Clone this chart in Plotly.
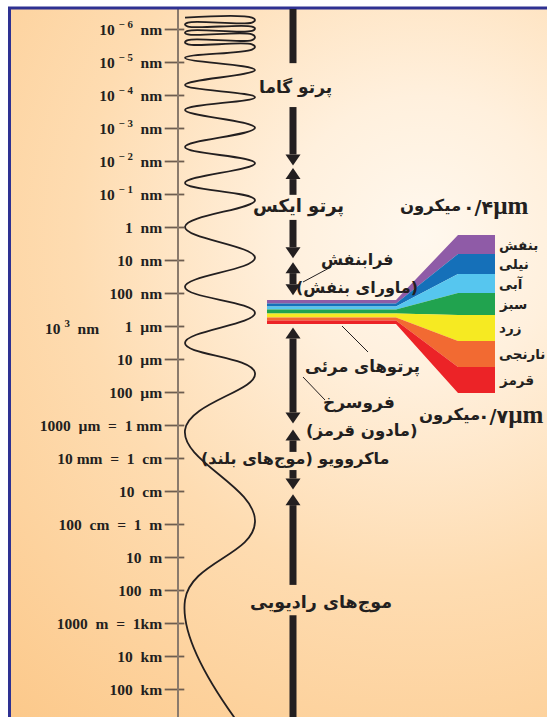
import base64
import plotly.graph_objects as go

# ---------------- data ----------------
# wavelength scale: log10(wavelength / m)
tick_exp = list(range(-15, 6))
SP = "\u2002"
NB = "\u00a0"


def sup_nm(p):
    return "10" + NB + "<sup>−" + NB + str(p) + "</sup>" + SP + "nm"


tick_text = [
    sup_nm(6), sup_nm(5), sup_nm(4), sup_nm(3), sup_nm(2), sup_nm(1),
    "1" + SP + "nm", "10" + SP + "nm", "100" + SP + "nm",
    "1" + SP + "µm", "10" + SP + "µm", "100" + SP + "µm",
    "1000" + SP + "µm" + SP + "=" + SP + "1" + NB + "mm", "10" + NB + "mm" + SP + "=" + SP + "1" + SP + "cm",
    "10" + SP + "cm",
    "100" + SP + "cm" + SP + "=" + SP + "1" + SP + "m", "10" + SP + "m", "100" + SP + "m",
    "1000" + SP + "m" + SP + "=" + SP + "1km", "10" + SP + "km", "100" + SP + "km",
]
alt_label_exp = -6
alt_label_text = "10" + NB + "<sup>3</sup>" + SP + "nm"

# bands of the spectrum along the scale (log10 m); None = runs off the frame
band_names = ["پرتو گاما", "پرتو ایکس", "فرابنفش", "فروسرخ", "ماکروویو", "موج‌های رادیویی"]
band_top_exp = [None, -10.80, -7.95, -5.97, -2.88, -0.92]
band_bottom_exp = [-10.88, -8.07, -6.95, -3.06, -1.06, None]
band_gap_exp = [(-13.98, -12.65), (-9.99, -9.23), None, None, (-2.20, -1.65), (1.83, 2.75)]

# drawn wave: tightly folded strokes at the top, then alternating turning points (log10 m)
wave_fold_exp = [-15.36, -15.21, -15.09, -14.96, -14.85, -14.68, -14.55, -14.39]
wave_turn_exp = [-14.14, -13.77, -13.32, -12.95, -12.56, -12.02, -11.44, -10.95,
                 -10.35, -9.83, -9.02, -8.08, -7.20, -6.41, -5.50, -4.59,
                 -2.86, -0.08, 2.29, 6.68]

# visible light
spectrum_names = ["بنفش", "نیلی", "آبی", "سبز", "زرد", "نارنجی", "قرمز"]
spectrum_colors = ["#8f5ba7", "#1570b9", "#56c6ef", "#21a34f", "#f6ea22", "#f26a32", "#ec2327"]
spectrum_narrow_edges = [300, 303.5, 306.5, 309.5, 313.5, 317.5, 320.5, 324]
spectrum_wide_edges = [235, 254, 274, 293, 315, 341, 367, 393]
edge_values = ["۰/۴", "۰/۷"]
edge_unit = "µm"
unit_word = "میکرون"

# ---------------- layout constants ----------------
W, H = 547, 717
FRAME_X, FRAME_Y = 9.5, 8
AXIS_X = 178
Y2_RANGE = [5.833, -15.621]
Y2_DOMAIN = [0, (H - FRAME_Y - 1) / H]
DEC_PX = 33.0
BAR_X = 293
BAR_W = 7
AH = 11 / DEC_PX
AW = 7.5
WAVE_L, WAVE_R = 185, 255
CURL = 3
INK = "#231f20"
RLM = "\u200f"
FA_FONT = "DejaVu Sans"

fig = go.Figure()

# background gradient
svg = f"""<svg xmlns='http://www.w3.org/2000/svg' width='{W}' height='{H}' viewBox='0 0 {W} {H}' preserveAspectRatio='none'>
<defs><radialGradient id='g' gradientUnits='userSpaceOnUse' cx='420' cy='230' r='640'>
<stop offset='0' stop-color='#fff8ee'/><stop offset='0.22' stop-color='#fff0dd'/>
<stop offset='0.55' stop-color='#fedcb1'/><stop offset='1' stop-color='#fcc98b'/>
</radialGradient></defs><rect width='{W}' height='{H}' fill='url(#g)'/></svg>"""
src = "data:image/svg+xml;base64," + base64.b64encode(svg.encode()).decode()
fig.add_layout_image(source=src, xref="x", yref="y", x=FRAME_X, y=FRAME_Y,
                     sizex=W - FRAME_X, sizey=H - FRAME_Y, sizing="stretch",
                     layer="below", xanchor="left", yanchor="top")

# wave: folded strokes (alternating direction, rounded turns), then turning points
wx, wy = [WAVE_L], [wave_fold_exp[0]]
for k in range(len(wave_fold_exp) - 1):
    side_r = (k % 2 == 0)
    xs = WAVE_R if side_r else WAVE_L
    inward = -CURL if side_r else CURL
    a, b = wave_fold_exp[k], wave_fold_exp[k + 1]
    wx += [xs + inward, xs, xs + inward]
    wy += [a, (a + b) / 2, b]
for i, e in enumerate(wave_turn_exp):
    wx.append(WAVE_L if i % 2 == 0 else WAVE_R)
    wy.append(e)
fig.add_trace(go.Scatter(x=wx, y=wy, yaxis="y2", mode="lines",
                         line=dict(color=INK, width=1.8, shape="spline", smoothing=1.2),
                         hoverinfo="skip", showlegend=False))

# tick marks
fig.add_trace(go.Scatter(x=[AXIS_X - 3.5] * len(tick_exp), y=tick_exp, yaxis="y2", mode="markers",
                         marker=dict(symbol="line-ew", size=14, line=dict(width=1.8, color="#6d5d50")),
                         hoverinfo="skip", showlegend=False))

shapes = []
# frame
shapes.append(dict(type="path", xref="x", yref="y",
                   path=f"M {FRAME_X},{H + 2} L {FRAME_X},{FRAME_Y} L {W + 2},{FRAME_Y}",
                   line=dict(color="#2e3192", width=3)))

# band bars with arrows
for top, bot, gap in zip(band_top_exp, band_bottom_exp, band_gap_exp):
    y_start = Y2_RANGE[1] if top is None else top + AH
    y_end = Y2_RANGE[0] if bot is None else bot - AH
    segs = [(y_start, y_end)] if gap is None else [(y_start, gap[0]), (gap[1], y_end)]
    for a, b in segs:
        shapes.append(dict(type="line", xref="x", yref="y2", x0=BAR_X, x1=BAR_X, y0=a, y1=b,
                           line=dict(color=INK, width=BAR_W)))
    if top is not None:
        shapes.append(dict(type="path", xref="x", yref="y2", fillcolor=INK, line=dict(width=0),
                           path=f"M {BAR_X - AW},{top + AH} L {BAR_X + AW},{top + AH} L {BAR_X},{top} Z"))
    if bot is not None:
        shapes.append(dict(type="path", xref="x", yref="y2", fillcolor=INK, line=dict(width=0),
                           path=f"M {BAR_X - AW},{bot - AH} L {BAR_X + AW},{bot - AH} L {BAR_X},{bot} Z"))

# spectrum fan
XN0, XN1, XW0, XW1 = 267, 396, 458, 495
for i, col in enumerate(spectrum_colors):
    nt, nb = spectrum_narrow_edges[i], spectrum_narrow_edges[i + 1]
    wt, wb = spectrum_wide_edges[i], spectrum_wide_edges[i + 1]
    shapes.append(dict(type="path", xref="x", yref="y", fillcolor=col, line=dict(width=0),
                       path=(f"M {XN0},{nt} L {XN1},{nt} L {XW0},{wt} L {XW1},{wt} "
                             f"L {XW1},{wb} L {XW0},{wb} L {XN1},{nb} L {XN0},{nb} Z")))

# leader lines
for (x0, y0, x1, y1) in [(303, 282, 331, 267), (342, 326, 368, 352), (303, 377, 325, 400)]:
    shapes.append(dict(type="line", xref="x", yref="y", x0=x0, y0=y0, x1=x1, y1=y1,
                       line=dict(color=INK, width=1)))

annotations = []


def fa(text, x, y, size=17, xanchor="center"):
    annotations.append(dict(text=RLM + text + RLM, x=x, y=y, xref="x", yref="y",
                            showarrow=False, xanchor=xanchor, yanchor="middle",
                            font=dict(family=FA_FONT, size=size, color=INK, weight="bold")))


fa(band_names[0], 295, 87, 17)
fa(band_names[1], 298, 206, 18)
fa(band_names[2], 357, 259, 16)
fa("(ماورای بنفش)", 357, 287, 16)
fa("پرتوهای مرئی", 362, 367, 16.5)
fa(band_names[3], 359, 402, 17)
fa("(مادون قرمز)", 362, 431, 16.5)
fa(band_names[4] + " (موج‌های بلند)", 295, 458, 16)
fa(band_names[5], 321, 602, 17.5)

for i, name in enumerate(spectrum_names):
    yc = (spectrum_wide_edges[i] + spectrum_wide_edges[i + 1]) / 2
    fa(name, 497, yc, 13.5, "left")

# micron edge labels
for val, x, y in zip(edge_values, [531, 546], [205, 414]):
    txt = f"<span style='font-family:DejaVu Sans;font-size:19px'>{val}</span>{edge_unit}"
    annotations.append(dict(text=txt, x=x, y=y, xref="x", yref="y",
                            showarrow=False, xanchor="right", yanchor="middle",
                            font=dict(family="Liberation Serif", size=25, color=INK, weight="bold")))
fa(unit_word, 463, 206, 16.5, "right")
fa(unit_word, 482, 415, 16.5, "right")

# extra label 10^3 nm
annotations.append(dict(text=alt_label_text, x=101, y=alt_label_exp, xref="x", yref="y2",
                        showarrow=False, xanchor="right", yanchor="middle",
                        font=dict(family="Liberation Serif", size=15.5, color=INK, weight="bold")))

fig.update_layout(
    width=W, height=H, margin=dict(l=0, r=0, t=0, b=0),
    paper_bgcolor="white", plot_bgcolor="rgba(0,0,0,0)",
    shapes=shapes, annotations=annotations, showlegend=False,
    xaxis=dict(range=[0, W], visible=False, fixedrange=True),
    yaxis=dict(range=[H, 0], visible=False, fixedrange=True, domain=[0, 1]),
    yaxis2=dict(range=Y2_RANGE, domain=Y2_DOMAIN, anchor="free", position=AXIS_X / W,
                side="left", showline=True, linecolor="#8a7a6c", linewidth=1.5,
                showgrid=False, zeroline=False, ticks="", tickvals=tick_exp, ticktext=tick_text,
                ticklabelstandoff=12, fixedrange=True,
                tickfont=dict(family="Liberation Serif", size=15.5, color=INK, weight="bold")),
)

fig.write_html("out.html", config={"displayModeBar": False},
               post_script="document.body.style.margin='0';")
